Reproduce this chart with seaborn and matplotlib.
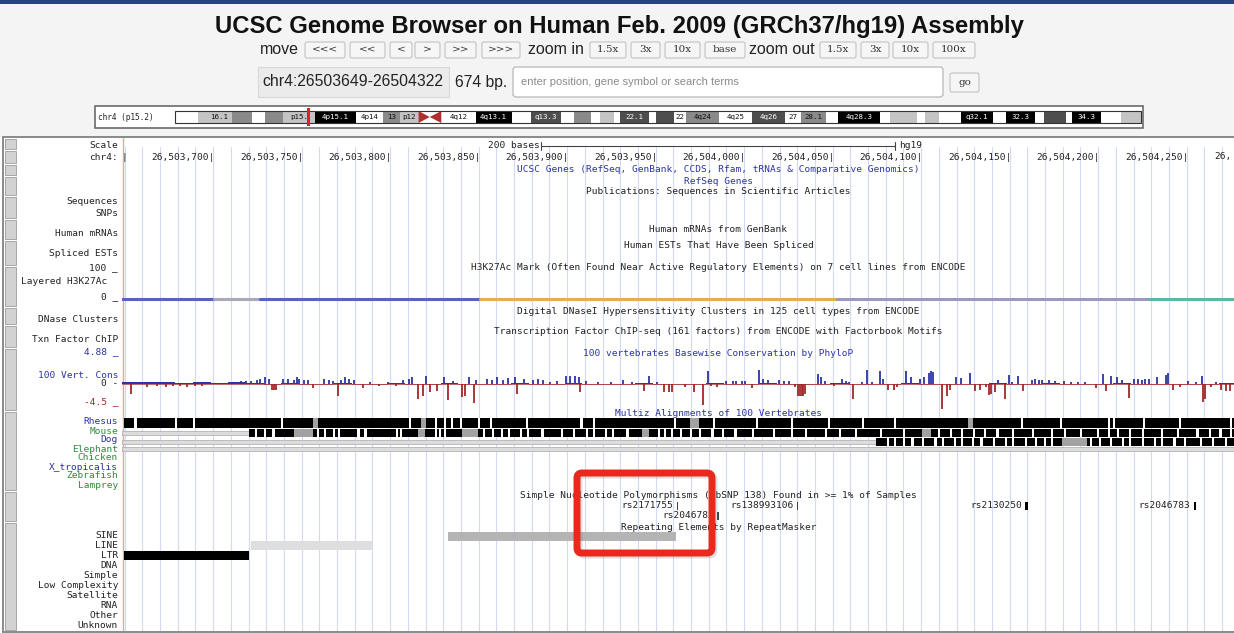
import matplotlib
matplotlib.use("Agg")
import matplotlib.pyplot as plt
from matplotlib.patches import Rectangle, FancyBboxPatch, Polygon
import pandas as pd
import seaborn as sns

# ---------------- data ----------------
START = 26503649
END = 26504322
PX_PER_BASE = 1.77

# chr4 cytobands (Mb) with stain as it looks in the ideogram
band_start = [0, 4.5, 6.0, 11.3, 15.2, 17.8, 21.3, 27.7, 35.8, 41.2, 44.6, 48.2, 50.4,
              52.7, 59.5, 66.6, 70.5, 76.3, 78.9, 82.4, 84.1, 86.9, 88.0, 93.7, 95.1,
              98.8, 101.1, 107.7, 114.1, 120.8, 123.8, 128.8, 131.1, 139.5, 141.5,
              146.8, 148.5, 151.1, 155.6, 161.8, 164.5, 170.1, 171.9, 176.3, 177.5,
              183.2, 187.1]
band_end = band_start[1:] + [191.15]
band_stain = ["gneg", "gpos25", "gpos25", "gpos50", "gneg", "gpos50", "gpos25", "gpos100",
              "gneg", "gpos50", "gpos25", "acen", "acen", "gneg", "gpos100", "gneg",
              "gpos75", "gneg", "gpos50", "gneg", "gpos25", "gneg", "gpos75", "gneg",
              "gpos75", "gneg", "gpos50", "gneg", "gpos75", "gneg", "gpos50", "gneg",
              "gpos100", "gneg", "gpos25", "gneg", "gpos25", "gneg", "gpos100", "gneg",
              "gpos100", "gneg", "gpos75", "gneg", "gpos100", "gneg", "gpos25"]
band_label = ["", "", "16.1", "", "", "", "p15.", "4p15.1", "4p14", "13", "p12", "", "",
              "4q12", "4q13.1", "", "q13.3", "", "", "", "", "", "22.1", "", "", "22",
              "4q24", "4q25", "4q26", "27", "28.1", "", "4q28.3", "", "", "", "", "",
              "q32.1", "", "32.3", "", "", "", "34.3", "", ""]

# ruler (last label is cut by the screenshot edge)
ruler_ticks = [26503700, 26503750, 26503800, 26503850, 26503900, 26503950, 26504000,
               26504050, 26504100, 26504150, 26504200, 26504250]
ruler_cut = (26504300, "26,")

# Layered H3K27Ac (bases from window start, one colour per stretch)
h3k_start = [0, 52, 78, 202, 404, 580]
h3k_end = [52, 78, 202, 404, 580, 640]
h3k_cell = ["GM12878", "H1", "HSMM", "HUVEC", "K562", "NHEK"]

# 100 vertebrates PhyloP: visible spikes (base offset, score)
cons_pos = [5, 14, 20, 25, 29, 33, 37, 41, 45, 64, 67, 70, 73, 76, 78, 81, 83, 85, 86, 87,
            91, 94, 97, 99, 100, 103, 105, 108, 114, 117, 119, 122, 124, 126, 128, 131, 136,
            140, 145, 150, 155, 159, 162, 164, 167, 170, 172, 174, 178, 182, 184, 187, 192,
            194, 196, 199, 200, 206, 209, 212, 215, 218, 222, 223, 227, 232, 235, 238, 242,
            246, 251, 253, 256, 258, 259, 262, 269, 276, 283, 288, 295, 298, 302, 306, 309,
            311, 318, 323, 328, 331, 333, 336, 341, 345, 347, 350, 352, 356, 360, 362, 365,
            371, 374, 377, 380, 382, 383, 384, 385, 386, 393, 395, 397, 402, 407, 409, 411,
            413, 418, 421, 424, 428, 430, 433, 436, 438, 443, 446, 451, 453, 456, 457, 458,
            463, 466, 468, 471, 474, 479, 482, 485, 488, 490, 491, 493, 495, 499, 501, 503,
            506, 509, 514, 516, 518, 520, 524, 527, 532, 536, 540, 544, 550, 554, 556, 559,
            562, 565, 569, 572, 574, 576, 578, 580, 585, 590, 591, 594, 598, 602, 607, 610,
            611, 612, 615, 618, 621, 624, 626]
cons_val = [-1.75, -0.5, -0.4, -0.5, -0.4, -0.4, -0.5, -0.4, -0.4, 0.4, 0.5, 0.5, 0.6, 0.8,
            1.0, 1.3, 1.0, -1.1, -1.1, -1.1, 0.9, 1.0, 0.8, 1.2, 1.0, 0.8, 0.7, -0.8, 1.0,
            0.7, 0.6, -2.1, 0.8, 1.2, 0.9, 0.7, -0.8, 0.3, -0.3, 0.3, -0.3, 0.7, 1.0, 1.3,
            -2.7, -2.1, 1.5, -1.4, -1.2, 1.3, -2.9, 0.6, -2.4, -2.1, 1.2, -3.4, 0.8, 1.0,
            0.8, 1.2, 0.8, 1.1, 1.2, -1.75, 1.0, 0.8, 1.0, 0.8, 0.3, 0.6, 1.5, 1.5, 1.5, 1.3,
            -1.4, 0.5, 0.4, 0.3, 0.7, 0.4, -1.3, 1.5, 0.3, -1.4, -1.4, -1.4, -0.5, -1.5,
            -3.8, 2.3, -0.4, -0.5, 0.6, 0.6, 0.6, 0.6, 0.6, -0.8, 2.5, 1.0, 0.7, 0.8, 0.5,
            0.5, -0.6, -2.1, -2.1, -2.1, -2.1, -1.8, 1.75, 1.2, 0.5, -0.4, 1.0, 0.6, 0.4,
            -2.8, 0.3, 2.5, 0.3, 2.3, 1.0, -1.0, -1.0, -0.5, 2.3, 1.2, 1.0, 1.2, 2.0, 2.4,
            2.2, -4.6, -2.1, -1.0, 1.2, 1.1, 2.0, -1.2, -1.0, -0.6, -2.0, -1.8, -1.5, 0.8,
            -2.8, 1.7, 0.4, 1.5, -1.2, 0.8, 0.9, 0.8, 0.7, 0.8, 0.5, 0.5, 0.4, 0.4, 0.3,
            -0.8, 1.8, -1.2, 1.5, 1.2, 0.8, -2.5, 0.9, 1.0, 0.8, 0.9, 1.0, 1.2, 1.6, 2.0,
            -1.0, -0.6, 0.6, 0.3, 1.5, -3.3, -2.8, -0.6, 0.3, -1.1, -1.3, -1.2]
# low background scores, one per 10 bases
cons_bg = [0.3, 0.3, 0.3, 0.25, 0.3, 0.25, 0.3, 0.2, -0.15, 0.2, -0.15, -0.15, 0.15, -0.15,
           -0.2, 0.15, -0.15, -0.15, 0.2, -0.15, -0.15, -0.2, 0.15, -0.15, -0.15, 0.15,
           -0.15, -0.2, -0.15, 0.15, -0.15, -0.15, -0.2, 0.15, -0.15, -0.15, 0.15, -0.15,
           -0.2, -0.15, 0.15, -0.15, -0.15, -0.15, 0.2, -0.15, -0.15, -0.2, -0.15, 0.15,
           -0.15, -0.15, 0.15, -0.15, -0.2, -0.15, 0.15, -0.15, -0.15, -0.2, -0.15, -0.15,
           0.15]

# Multiz alignments (base offsets)
rhesus_gaps = [7, 30, 40, 90, 162, 177, 182, 186, 191, 201, 208, 228, 259, 266, 312, 334,
               358, 378, 399, 418, 436, 508, 530, 557, 560, 577, 597, 626]
rhesus_grey = [(108, 111), (169, 172), (321, 326), (478, 481)]
mouse_line = (0, 72)
mouse_gaps = [75, 80, 85, 110, 114, 119, 122, 133, 137, 155, 157, 177, 179, 182, 204, 209,
              214, 218, 225, 229, 237, 248, 255, 262, 266, 273, 277, 285, 303, 306, 310,
              315, 321, 326, 333, 339, 346, 356, 368, 378, 386, 397, 405, 414, 428, 441,
              461, 468, 474, 481, 487, 494, 503, 514, 525, 532, 541, 551, 557, 562, 569,
              576, 587, 596, 607, 614, 620, 626]
mouse_grey = [(97, 108), (167, 171), (192, 201), (294, 298), (452, 457)]
dog_line = (0, 426)
dog_gaps = [432, 436, 441, 446, 452, 459, 463, 470, 474, 480, 485, 492, 499, 503, 510, 516,
            521, 525, 547, 552, 558, 565, 569, 576, 583, 587, 594, 600, 609, 616, 623]
dog_grey = [(531, 545)]

# SNPs >= 1%
snp_name = ["rs2171755", "rs138993106", "rs2046782", "rs2130250", "rs2046783"]
snp_pos = [314, 382, 337, 511, 606]
snp_row = [0, 0, 1, 0, 0]

# RepeatMasker
rmsk_class = ["SINE", "LINE", "LTR", "DNA", "Simple", "Low Complexity", "Satellite", "RNA",
              "Other", "Unknown"]
rmsk_item_class = ["SINE", "LINE", "LTR"]
rmsk_start = [184, 73, 1]
rmsk_end = [313, 142, 72]

# ---------------- styling ----------------
sns.set_theme(style="white")
plt.rcParams["font.family"] = ["Liberation Sans", "DejaVu Sans"]
MONO = "DejaVu Sans Mono"
BLUE = "#2c35a0"
GREEN = "#2e8b3a"
DRED = "#a02828"
STAIN = {"gneg": "#ffffff", "gpos25": "#c4c4c4", "gpos50": "#8a8a8a", "gpos75": "#4e4e4e",
         "gpos100": "#000000", "acen": "#b03030"}

fig = plt.figure(figsize=(12.34, 6.33), dpi=100)
page = fig.add_axes([0, 0, 1, 1])
page.set_xlim(0, 1234)
page.set_ylim(633, 0)
page.axis("off")

# header background
page.add_patch(Rectangle((0, 0), 1234, 137, fc="#f4f4f4", ec="none"))
page.add_patch(Rectangle((0, 0), 1234, 4, fc="#24467c", ec="none"))
page.text(619, 26, "UCSC Genome Browser on Human Feb. 2009 (GRCh37/hg19) Assembly",
          ha="center", va="center", fontsize=17.2, fontweight="bold", color="#111111")


def button(x0, x1, y0, y1, label, size=7.5):
    page.add_patch(FancyBboxPatch((x0, y0), x1 - x0, y1 - y0,
                                  boxstyle="round,pad=0,rounding_size=2",
                                  fc="#f6f6f6", ec="#c2c2c2", lw=0.8))
    page.text((x0 + x1) / 2, (y0 + y1) / 2, label, ha="center", va="center",
              fontsize=size, family="DejaVu Serif", color="#333333")


page.text(279, 49, "move", ha="center", va="center", fontsize=11.5, color="#222222")
for (x0, x1), lab in zip([(305, 345), (350, 385), (390, 412), (415, 440), (445, 476),
                          (482, 520)], ["<<<", "<<", "<", ">", ">>", ">>>"]):
    button(x0, x1, 42, 58, lab)
page.text(556, 49, "zoom in", ha="center", va="center", fontsize=11.5, color="#222222")
for (x0, x1), lab in zip([(590, 626), (631, 660), (665, 700), (705, 745)],
                         ["1.5x", "3x", "10x", "base"]):
    button(x0, x1, 42, 58, lab)
page.text(782, 49, "zoom out", ha="center", va="center", fontsize=11.5, color="#222222")
for (x0, x1), lab in zip([(820, 856), (861, 889), (893, 928), (933, 975)],
                         ["1.5x", "3x", "10x", "100x"]):
    button(x0, x1, 42, 58, lab)

page.add_patch(Rectangle((258, 67), 191, 30, fc="#ebebeb", ec="#d8d8d8", lw=0.8))
page.text(353, 82, f"chr4:{START}-{END}", ha="center", va="center", fontsize=11.3,
          color="#222222")
page.text(455, 82, f"{END - START + 1} bp.", ha="left", va="center", fontsize=11.3,
          color="#222222")
page.add_patch(FancyBboxPatch((513, 67), 430, 30, boxstyle="round,pad=0,rounding_size=3",
                              fc="white", ec="#b8b8b8", lw=0.9))
page.text(521, 82, "enter position, gene symbol or search terms", ha="left", va="center",
          fontsize=8, color="#8a8a8a")
button(950, 979, 73, 92, "go")

# ideogram
page.add_patch(Rectangle((95, 106), 1048, 22, fc="white", ec="#6a6a6a", lw=1.2))
page.text(98, 117, "chr4 (p15.2)", ha="left", va="center", fontsize=5.6, family=MONO,
          color="#222222")
IX0, IX1 = 175, 1141


def ideo_x(mb):
    return IX0 + mb / band_end[-1] * (IX1 - IX0)


for s, e, st, lab in zip(band_start, band_end, band_stain, band_label):
    x0, x1 = ideo_x(s), ideo_x(e)
    if st == "acen":
        continue
    page.add_patch(Rectangle((x0, 111), x1 - x0, 12, fc=STAIN[st], ec="none"))
    if lab:
        tc = "white" if st in ("gpos75", "gpos100") else "#111111"
        page.text((x0 + x1) / 2, 117.3, lab, ha="center", va="center", fontsize=5.4,
                  family=MONO, color=tc)
acen = [i for i, st in enumerate(band_stain) if st == "acen"]
cx0, cx1 = ideo_x(band_start[acen[0]]), ideo_x(band_end[acen[-1]])
cmid = ideo_x(band_end[acen[0]])
page.add_patch(Polygon([(cx0, 111), (cx0, 123), (cmid, 117)], fc=STAIN["acen"], ec="none"))
page.add_patch(Polygon([(cx1, 111), (cx1, 123), (cmid, 117)], fc=STAIN["acen"], ec="none"))
page.add_patch(Rectangle((IX0, 111), IX1 - IX0, 12, fc="none", ec="#333333", lw=0.8))
page.add_patch(Rectangle((ideo_x(START / 1e6) - 1.5, 108), 3, 18, fc="#e02020", ec="none"))

# track panel frame
page.add_patch(Rectangle((3, 137), 1240, 495, fc="white", ec="#8a8a8a", lw=1.4))
side_buttons = [(139, 149), (151, 163), (165, 175), (177, 195), (197, 218), (220, 239),
                (241, 265), (267, 306), (308, 324), (326, 347), (349, 410), (412, 490),
                (492, 521), (523, 630)]
for y0, y1 in side_buttons:
    page.add_patch(Rectangle((5, y0), 11, y1 - y0, fc="#d2d2d2", ec="#a6a6a6", lw=0.7))

# left labels
left_labels = [("Scale", 146, "#222"), ("chr4:", 157, "#222"), ("Sequences", 201, "#222"),
               ("SNPs", 213, "#222"), ("Human mRNAs", 233, "#222"),
               ("Spliced ESTs", 254, "#222"), ("100 _", 268, "#222"), ("0 _", 297, "#222"),
               ("DNase Clusters", 319, "#222"), ("Txn Factor ChIP", 340, "#222"),
               ("4.88 _", 352, BLUE), ("100 Vert. Cons", 376, BLUE), ("0 -", 383, "#222"),
               ("-4.5 _", 402, DRED), ("Rhesus", 422, BLUE), ("Mouse", 431, GREEN),
               ("Dog", 440, BLUE), ("Elephant", 449, GREEN), ("Chicken", 458, GREEN),
               ("X_tropicalis", 467, BLUE), ("Zebrafish", 476, GREEN),
               ("Lamprey", 485, GREEN)]
for i, cls in enumerate(rmsk_class):
    left_labels.append((cls, 536 + i * 9.9, "#222"))
for txt, y, c in left_labels:
    page.text(118, y, txt, ha="right", va="center", fontsize=6.8, family=MONO, color=c)
page.text(107, 281, "Layered H3K27Ac", ha="right", va="center", fontsize=6.8, family=MONO,
          color="#222")

# ---------------- track image ----------------
TX0, TY0, TY1 = 122, 138, 631
track = fig.add_axes([TX0 / 1234, (633 - TY1) / 633, (1234 - TX0) / 1234,
                      (TY1 - TY0) / 633])
XMAX = (1234 - TX0) / PX_PER_BASE


def off(pos):
    return pos - START + 0.5


# H3K27Ac flat signal (drawn first, seaborn resets the axes labels)
h3k_df = pd.DataFrame({
    "pos": [p for s, e in zip(h3k_start, h3k_end) for p in (s, e)],
    "y": [299] * (2 * len(h3k_start)),
    "cell": [c for c in h3k_cell for _ in range(2)],
})
h3k_pal = dict(zip(h3k_cell, ["#5664c0", "#a9a9b8", "#5664c0", "#e2b04e", "#9b98c2",
                              "#5ab9a6"]))
sns.lineplot(data=h3k_df, x="pos", y="y", hue="cell", palette=h3k_pal, legend=False,
             estimator=None, sort=False, lw=2.2, ax=track)
track.set_xlim(0, XMAX)
track.set_ylim(TY1, TY0)
track.axis("off")

# base guide lines every 10 bases
for p in range(26503650, END + 1, 10):
    track.axvline(off(p), ymin=0, ymax=(TY1 - 147) / (TY1 - TY0), color="#d3daf2", lw=0.8,
                  zorder=0)
track.axvline(0.3, color="#f2a0a0", lw=1.0, zorder=1)

mid = (END - START + 1) / 2
# scale bar
track.plot([mid - 100, mid + 100], [146, 146], color="#444", lw=0.8)
track.plot([mid - 100, mid - 100], [142, 150], color="#444", lw=0.8)
track.plot([mid + 100, mid + 100], [142, 150], color="#444", lw=0.8)
track.text(mid - 101, 146, "200 bases", ha="right", va="center", fontsize=6.8, family=MONO,
           color="#222")
track.text(mid + 102, 145, "hg19", ha="left", va="center", fontsize=6.8, family=MONO,
           color="#222")
# ruler
track.text(off(26503650), 157, "|", ha="center", va="center", fontsize=6.8, family=MONO,
           color="#222")
for t in ruler_ticks:
    track.text(off(t) + 0.8, 157, f"{t:,}|", ha="right", va="center", fontsize=6.8,
               family=MONO, color="#222")
track.text(off(ruler_cut[0]) - 34.3, 157, ruler_cut[1], ha="left", va="center",
           fontsize=6.8, family=MONO, color="#222")

# centred track titles
titles = [("UCSC Genes (RefSeq, GenBank, CCDS, Rfam, tRNAs & Comparative Genomics)", 169, BLUE),
          ("RefSeq Genes", 181, BLUE),
          ("Publications: Sequences in Scientific Articles", 192, "#222"),
          ("Human mRNAs from GenBank", 229, "#222"),
          ("Human ESTs That Have Been Spliced", 245, "#222"),
          ("H3K27Ac Mark (Often Found Near Active Regulatory Elements) on 7 cell lines from ENCODE", 268, "#222"),
          ("Digital DNaseI Hypersensitivity Clusters in 125 cell types from ENCODE", 311, "#222"),
          ("Transcription Factor ChIP-seq (161 factors) from ENCODE with Factorbook Motifs", 332, "#222"),
          ("100 vertebrates Basewise Conservation by PhyloP", 353, BLUE),
          ("Multiz Alignments of 100 Vertebrates", 414, BLUE),
          ("Simple Nucleotide Polymorphisms (dbSNP 138) Found in >= 1% of Samples", 496, "#222"),
          ("Repeating Elements by RepeatMasker", 528, "#222")]
for txt, y, c in titles:
    track.text(mid, y, txt, ha="center", va="center", fontsize=6.8, family=MONO, color=c)

# PhyloP conservation
ZERO, UNIT = 384, 5.5
bg_x = [i * 10 for i in range(len(cons_bg))]
track.bar(bg_x, [-v * UNIT for v in cons_bg], bottom=ZERO, width=10, align="edge",
          color=[BLUE if v > 0 else DRED for v in cons_bg], lw=0)
track.plot([0, 640], [ZERO, ZERO], color="#b25050", lw=0.6)
for p, v in zip(cons_pos, cons_val):
    track.vlines(p, ZERO, ZERO - v * UNIT, color=BLUE if v > 0 else DRED, lw=1.3)


# Multiz
def align_row(y0, h, gaps, greys, line=None):
    x_end = 640
    if line is not None:
        track.add_patch(Rectangle((line[0], y0 + h / 2 - 2), line[1] - line[0], 4,
                                  fc="#dcdcdc", ec="#a8a8a8", lw=0.5))
        b0 = line[1]
    else:
        b0 = 1
    track.add_patch(Rectangle((b0, y0), x_end - b0, h, fc="black", ec="none"))
    for s, e in greys:
        track.add_patch(Rectangle((s, y0), e - s, h, fc="#a2a2a2", ec="none"))
    for g in gaps:
        track.add_patch(Rectangle((g, y0), 1.2, h, fc="white", ec="none"))


align_row(418, 10, rhesus_gaps, rhesus_grey)
align_row(428.5, 8.5, mouse_gaps, mouse_grey, mouse_line)
align_row(437.5, 8.5, dog_gaps, dog_grey, dog_line)
track.add_patch(Rectangle((0, 447), 640, 4, fc="#dcdcdc", ec="#a8a8a8", lw=0.5))

# SNPs
for name, p, r in zip(snp_name, snp_pos, snp_row):
    y = 506 + r * 9.5
    thick = p > 450
    track.add_patch(Rectangle((p - 0.6, y - 4), 1.4 if thick else 0.7, 8,
                              fc="black" if thick else "#444", ec="none"))
    track.text(p - 2.5, y, name, ha="right", va="center", fontsize=6.8, family=MONO,
               color="#222")

# RepeatMasker
rmsk_col = {"SINE": "#b4b4b4", "LINE": "#dedede", "LTR": "#000000"}
for cls, s, e in zip(rmsk_item_class, rmsk_start, rmsk_end):
    y = 536 + rmsk_class.index(cls) * 9.9
    track.add_patch(Rectangle((s, y - 4.5), e - s, 9, fc=rmsk_col[cls], ec="none"))

# red highlight box, on an overlay above the track image
overlay = fig.add_axes([0, 0, 1, 1])
overlay.set_xlim(0, 1234)
overlay.set_ylim(633, 0)
overlay.axis("off")
overlay.patch.set_alpha(0)
overlay.add_patch(FancyBboxPatch((579, 475), 135, 80, boxstyle="round,pad=0,rounding_size=5",
                                 fc="none", ec="#7a7a7a", lw=5, alpha=0.25))
overlay.add_patch(FancyBboxPatch((577, 473), 135, 80, boxstyle="round,pad=0,rounding_size=5",
                                 fc="none", ec="#e8291c", lw=5))

fig.savefig("out.png", dpi=100)
